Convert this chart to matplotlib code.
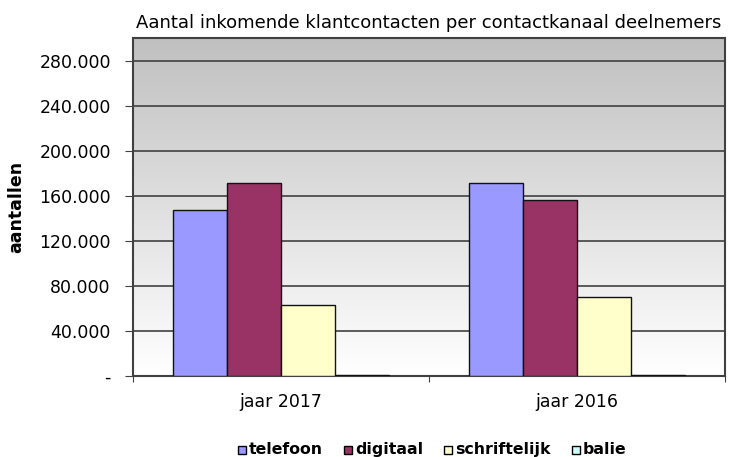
import numpy as np
import matplotlib.pyplot as plt
from matplotlib.patches import Rectangle
from matplotlib.ticker import FuncFormatter
from matplotlib.colors import LinearSegmentedColormap

categories = ['jaar 2017', 'jaar 2016']
series = ['telefoon', 'digitaal', 'schriftelijk', 'balie']
telefoon = [147000, 171000]
digitaal = [171000, 156000]
schriftelijk = [63000, 70000]
balie = [1000, 1000]
colors = ['#9999FF', '#993366', '#FFFFCC', '#CCFFFF']

values = [telefoon, digitaal, schriftelijk, balie]

W, H = 729, 457
fig = plt.figure(figsize=(W / 100, H / 100), dpi=100)
ax = fig.add_axes([133 / W, 1 - 376 / H, 592 / W, 338 / H])

# gradient background, grey at top to white at bottom
bg = LinearSegmentedColormap.from_list('bg', ['#ffffff', '#c0c0c0'])
grad = np.linspace(0, 1, 256).reshape(-1, 1)
ax.imshow(grad, cmap=bg, aspect='auto', extent=(0, 1, 0, 1),
          transform=ax.transAxes, zorder=0, origin='lower')

x = np.arange(len(categories))
w = 0.182
for i, (name, vals) in enumerate(zip(series, values)):
    ax.bar(x + (i - 1.5) * w, vals, w, color=colors[i], edgecolor='#111111',
           linewidth=1.0, zorder=3, label=name)

ax.set_xlim(-0.5, 1.5)
ax.set_ylim(0, 300000)
ax.set_yticks(np.arange(0, 280001, 40000))
ax.yaxis.set_major_formatter(FuncFormatter(
    lambda v, p: '-' if v == 0 else f'{int(v):,}'.replace(',', '.')))
ax.yaxis.grid(True, color='#404040', linewidth=1.2, zorder=1)
ax.set_axisbelow(True)

ax.set_xticks([-0.5, 0.5, 1.5], minor=False)
ax.set_xticklabels([])
ax.set_xticks(x, minor=True)
ax.set_xticklabels(categories, minor=True, fontsize=12.5)
ax.tick_params(axis='x', which='minor', length=0, pad=12)
ax.tick_params(axis='x', which='major', length=4, color='#404040')
ax.tick_params(axis='y', length=6, color='#404040', labelsize=12.5, pad=10)

for s in ax.spines.values():
    s.set_color('#404040')
    s.set_linewidth(1.5)

ax.set_ylabel('aantallen', fontsize=12.5, fontweight='bold', labelpad=10)
ax.set_title('Aantal inkomende klantcontacten per contactkanaal deelnemers',
             fontsize=13, pad=7)

# legend drawn by hand so all labels share one baseline
renderer = fig.canvas.get_renderer()
xp = 238
yb = H - 454
for c, n in zip(colors, series):
    fig.patches.append(Rectangle((xp / W, yb / H), 8 / W, 8 / H, facecolor=c,
                                 edgecolor='black', linewidth=1.0,
                                 transform=fig.transFigure))
    t = fig.text((xp + 11) / W, yb / H, n, fontsize=11.3, fontweight='bold',
                 va='baseline', ha='left')
    xp += 11 + t.get_window_extent(renderer).width + 21

fig.savefig('out.png', dpi=100)
